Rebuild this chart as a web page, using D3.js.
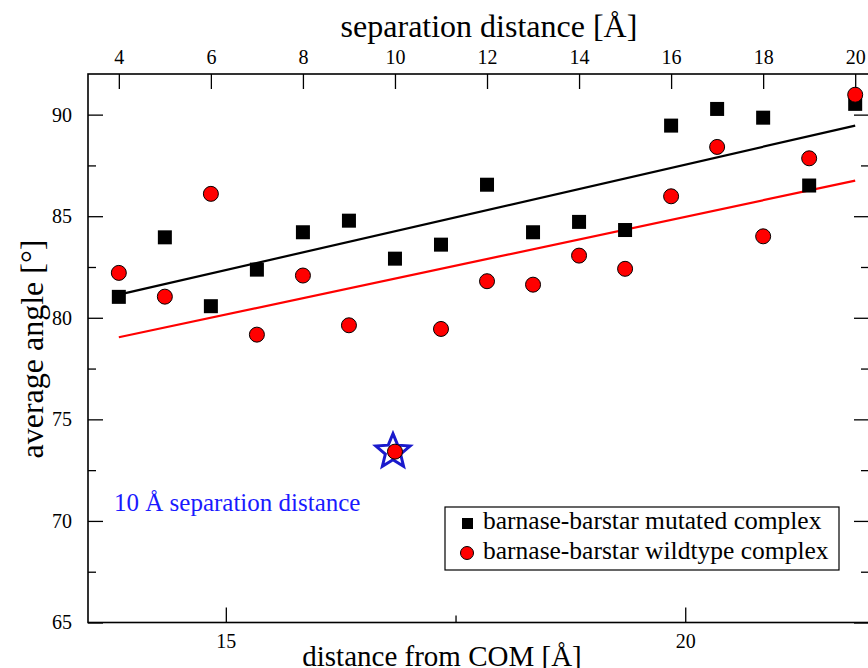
<!DOCTYPE html>
<html><head><meta charset="utf-8">
<script src="https://cdn.jsdelivr.net/npm/d3@7"></script>
<style>
body{margin:0;background:#fff}
svg{display:block}
</style>
</head><body>
<svg id="chart" width="868" height="668"></svg>
<script>
// ---- data ----
const separation = [4,5,6,7,8,9,10,11,12,13,14,15,16,17,18,19,20];
const mutated  = [81.03,83.96,80.57,82.37,84.21,84.78,82.91,83.60,86.55,84.21,84.72,84.32,89.46,90.28,89.85,86.51,90.53];
const wildtype = [82.21,81.04,86.10,79.17,82.08,79.63,73.41,79.45,81.80,81.63,83.06,82.41,85.98,88.41,84.01,87.85,90.98];
const fitSep = [4,20];
const fitMutated = [81.14,89.46];
const fitWildtype = [79.04,86.75];
const highlightSep = [10];
const highlightAngle = [73.41];
const topTicks = [4,6,8,10,12,14,16,18,20];
const bottomTicks = [15,20];
const bottomMinor = [17.5];
const yTicks = [65,70,75,80,85,90];
const yMinor = [67.5,72.5,77.5,82.5,87.5];
const seriesNames = ["barnase-barstar mutated complex","barnase-barstar wildtype complex"];
const annotation = "10 Å separation distance";

// ---- layout ----
const L = 88, R = 869, T = 74, B = 622.5;
const FONT = '"Liberation Serif","Times New Roman",serif';
const svg = d3.select("#chart");
const xTop = d3.scaleLinear().domain([3.33, 20.3]).range([L, R]);
const xBot = d3.scaleLinear().domain([13.5, 22]).range([L, R]);
const y = d3.scaleLinear().domain([65, 92]).range([B, T]);

function styleAxis(g, size) {
  g.select(".domain").remove();
  g.selectAll(".tick line").attr("stroke", "#000").attr("stroke-width", 1.3);
  g.attr("font-family", FONT).attr("font-size", size);
  g.selectAll("text").attr("fill", "#000");
}

// axes
svg.append("g").attr("transform", `translate(${L},0)`)
  .call(d3.axisLeft(y).tickValues(yTicks).tickSize(-15).tickPadding(16).tickFormat(d3.format("d")))
  .call(g => styleAxis(g, 20));
svg.append("g").attr("transform", `translate(${L},0)`)
  .call(d3.axisLeft(y).tickValues(yMinor).tickSize(-8).tickFormat(""))
  .call(g => styleAxis(g, 20));
svg.append("g").attr("transform", `translate(${R},0)`)
  .call(d3.axisRight(y).tickValues(yTicks).tickSize(-15).tickFormat(""))
  .call(g => styleAxis(g, 20));
svg.append("g").attr("transform", `translate(${R},0)`)
  .call(d3.axisRight(y).tickValues(yMinor).tickSize(-8).tickFormat(""))
  .call(g => styleAxis(g, 20));
svg.append("g").attr("transform", `translate(0,${T})`)
  .call(d3.axisTop(xTop).tickValues(topTicks).tickSize(-15).tickPadding(10).tickFormat(d3.format("d")))
  .call(g => styleAxis(g, 20));
svg.append("g").attr("transform", `translate(0,${B})`)
  .call(d3.axisBottom(xBot).tickValues(bottomTicks).tickSize(-15).tickPadding(11).tickFormat(d3.format("d")))
  .call(g => styleAxis(g, 20));
svg.append("g").attr("transform", `translate(0,${B})`)
  .call(d3.axisBottom(xBot).tickValues(bottomMinor).tickSize(-7).tickFormat(""))
  .call(g => styleAxis(g, 20));

// frame
svg.append("rect").attr("x", L).attr("y", T).attr("width", R - L).attr("height", B - T)
  .attr("fill", "none").attr("stroke", "#000").attr("stroke-width", 1.6);

// titles
svg.append("text").attr("x", 489).attr("y", 37).attr("text-anchor", "middle")
  .attr("font-family", FONT).attr("font-size", 32).text("separation distance [Å]");
svg.append("text").attr("x", 442).attr("y", 666).attr("text-anchor", "middle")
  .attr("font-family", FONT).attr("font-size", 29).text("distance from COM [Å]");
svg.append("text").attr("transform", "translate(43,349) rotate(-90)").attr("text-anchor", "middle")
  .attr("font-family", FONT).attr("font-size", 32).text("average angle [°]");

// fit lines
const line = d3.line().x(d => xTop(d[0])).y(d => y(d[1]));
svg.append("path").datum(d3.zip(fitSep, fitMutated)).attr("d", line)
  .attr("fill", "none").attr("stroke", "#000").attr("stroke-width", 2.2);
svg.append("path").datum(d3.zip(fitSep, fitWildtype)).attr("d", line)
  .attr("fill", "none").attr("stroke", "#ff0000").attr("stroke-width", 2.2);

// highlight star
const starR = 18, starr = 8;
const starPts = d3.range(10).map(i => {
  const a = -Math.PI / 2 + i * Math.PI / 5, r = i % 2 ? starr : starR;
  return [r * Math.cos(a), r * Math.sin(a)];
});
svg.selectAll(".star").data(d3.zip(highlightSep, highlightAngle)).join("path")
  .attr("transform", d => `translate(${xTop(d[0]) - 2},${y(d[1])})`)
  .attr("d", d3.line().curve(d3.curveLinearClosed)(starPts))
  .attr("fill", "none").attr("stroke", "#1a1acc").attr("stroke-width", 3);

// markers
const S = 14;
svg.selectAll(".sq").data(d3.zip(separation, mutated)).join("rect")
  .attr("x", d => xTop(d[0]) - S / 2).attr("y", d => y(d[1]) - S / 2)
  .attr("width", S).attr("height", S).attr("fill", "#000");
svg.selectAll(".ci").data(d3.zip(separation, wildtype)).join("circle")
  .attr("cx", d => xTop(d[0])).attr("cy", d => y(d[1])).attr("r", 7.5)
  .attr("fill", "#ff0000").attr("stroke", "#000").attr("stroke-width", 1);

// annotation
svg.append("text").attr("x", 114).attr("y", 511).attr("font-family", FONT)
  .attr("font-size", 25).attr("fill", "#1a1aff").text(annotation);

// legend
const lg = svg.append("g");
lg.append("rect").attr("x", 445).attr("y", 507).attr("width", 394).attr("height", 63)
  .attr("fill", "#fff").attr("stroke", "#000").attr("stroke-width", 1.2);
lg.append("rect").attr("x", 462).attr("y", 518).attr("width", 11).attr("height", 11).attr("fill", "#000");
lg.append("circle").attr("cx", 467).attr("cy", 553).attr("r", 6.5)
  .attr("fill", "#ff0000").attr("stroke", "#000").attr("stroke-width", 1);
lg.selectAll(".lt").data(seriesNames).join("text")
  .attr("x", 483).attr("y", (d, i) => 529 + i * 30)
  .attr("font-family", FONT).attr("font-size", 25.5).text(d => d);
</script>
</body></html>
